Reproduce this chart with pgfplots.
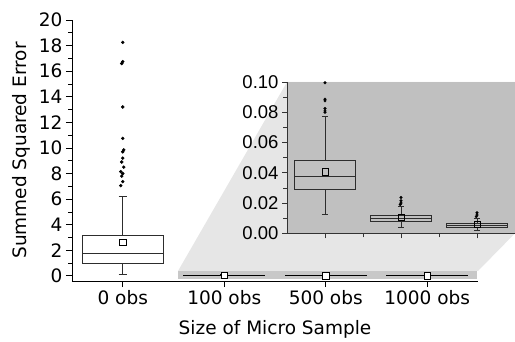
\documentclass[border=0pt]{standalone}
\usepackage{fontspec}
\setmainfont{DejaVu Sans}
\newfontfamily\insetfont{Liberation Sans}
\usepackage{pgfplots}
\pgfplotsset{compat=1.18}
\usepgfplotslibrary{statistics}
\pgfplotsset{boxplot/draw direction=y}
\definecolor{insetbg}{RGB}{192,192,192}
\definecolor{zoombg}{RGB}{230,230,230}
\definecolor{bandbg}{RGB}{200,200,200}
\definecolor{boxline}{RGB}{45,45,45}
\begin{document}
\begin{tikzpicture}
\useasboundingbox (-72bp,-61bp) rectangle (443bp,281bp);
\begin{axis}[name=main, at={(0,0)}, anchor=south west,
 scale only axis, width=406bp, height=261bp,
 xmin=0.5, xmax=4.5, ymin=-0.4, ymax=20,
 axis x line=bottom, axis y line=left,
 axis line style={-, line width=0.8bp, black},
 xtick={1,2,3,4}, xticklabels={0 obs,100 obs,500 obs,1000 obs},
 ytick={0,2,4,6,8,10,12,14,16,18,20}, minor ytick={1,3,5,7,9,11,13,15,17,19},
 tick align=outside, major tick length=6bp, minor tick length=3.5bp,
 every tick/.style={black, line width=0.8bp},
 /pgf/number format/assume math mode=true,
 tick label style={font=\fontsize{18.5bp}{22bp}\selectfont},
 label style={font=\fontsize{18.5bp}{22bp}\selectfont},
 xlabel={Size of Micro Sample}, ylabel={Summed Squared Error},
 xlabel style={yshift=-9bp}, ylabel style={yshift=2bp},
 clip=false,
]
\addplot[fill=bandbg, draw=none] coordinates {(1.54,-0.23) (4.49,-0.23) (4.49,0.39) (1.54,0.39)} -- cycle;
\addplot[boxplot prepared={draw direction=y, draw position=1, lower whisker=0.08, lower quartile=0.99, median=1.72, upper quartile=3.2, upper whisker=6.25, box extend=0.8, whisker extend=0.08}, draw=boxline, line width=0.8bp] coordinates {};
\addplot[boxplot prepared={draw direction=y, draw position=2, lower whisker=0.0127, lower quartile=0.029, median=0.0378, upper quartile=0.0484, upper whisker=0.0774, box extend=0.8, whisker extend=0.08}, draw=black, line width=0.9bp] coordinates {};
\addplot[boxplot prepared={draw direction=y, draw position=3, lower whisker=0.0037, lower quartile=0.0081, median=0.0097, upper quartile=0.0121, upper whisker=0.018, box extend=0.8, whisker extend=0.08}, draw=black, line width=1.2bp] coordinates {};
\addplot[boxplot prepared={draw direction=y, draw position=4, lower whisker=0.0022, lower quartile=0.0042, median=0.0053, upper quartile=0.0066, upper whisker=0.0099, box extend=0.8, whisker extend=0.08}, draw=black, line width=1.2bp] coordinates {};
\addplot[only marks, mark=*, mark size=1.5bp, black] coordinates {
(1,18.25) (1,16.75) (0.99,16.6) (1,13.2) (1,10.75) (1.01,9.85) (1,9.7) (1,9.2) (0.99,8.9) (1.01,8.5) (0.98,8.15) (1,8.0) (0.99,7.8) (1,7.37) (0.98,7.05)};
\addplot[only marks, mark=square*, mark size=3.3bp, mark options={fill=white, draw=black, line width=0.8bp}] coordinates {(1,2.63) (2,0.041) (3,0.0106) (4,0.0057)};
\end{axis}
\fill[zoombg] (106bp,10bp) -- (215bp,199bp) -- (443bp,199bp) -- (443bp,47.7bp) -- (406bp,10bp) -- cycle;
\fill[insetbg] (215bp,47.7bp) rectangle (443bp,199bp);
\begin{axis}[at={(215bp,47.7bp)}, anchor=south west,
 scale only axis, width=228bp, height=151.3bp,
 xmin=0.5, xmax=3.5, ymin=0, ymax=0.1,
 axis x line=bottom, axis y line=left,
 axis line style={-, line width=0.8bp, black!80},
 xtick={1,2,3}, xticklabels={,,}, minor xtick={1.5,2.5},
 ytick={0,0.02,0.04,0.06,0.08,0.1}, minor ytick={0.01,0.03,0.05,0.07,0.09},
 tick align=outside, major tick length=5bp, minor tick length=4bp,
 every tick/.style={black!80, line width=0.7bp},
 scaled y ticks=false,
 /pgf/number format/assume math mode=true,
 yticklabel style={/pgf/number format/.cd, fixed, fixed zerofill, precision=2},
 tick label style={font=\insetfont\fontsize{18.5bp}{22bp}\selectfont},
 clip=false,
]
\addplot[boxplot prepared={draw direction=y, draw position=1, lower whisker=0.0127, lower quartile=0.029, median=0.0378, upper quartile=0.0484, upper whisker=0.0774, box extend=0.8, whisker extend=0.08}, draw=boxline, line width=0.8bp] coordinates {};
\addplot[boxplot prepared={draw direction=y, draw position=2, lower whisker=0.0037, lower quartile=0.0081, median=0.0097, upper quartile=0.0121, upper whisker=0.018, box extend=0.8, whisker extend=0.08}, draw=boxline, line width=0.8bp] coordinates {};
\addplot[boxplot prepared={draw direction=y, draw position=3, lower whisker=0.0022, lower quartile=0.0042, median=0.0053, upper quartile=0.0066, upper whisker=0.0099, box extend=0.8, whisker extend=0.08}, draw=boxline, line width=0.8bp] coordinates {};
\addplot[only marks, mark=*, mark size=1.3bp, black] coordinates {
(1,0.0995) (1,0.0886) (1,0.0875) (1,0.0825) (1,0.0809) (1,0.080)
(2,0.0237) (2,0.0215) (2,0.0200) (1.99,0.0190)
(3,0.0136) (3,0.0121) (2.99,0.0110)};
\addplot[only marks, mark=square, mark size=3.1bp, mark options={draw=black, line width=0.8bp}] coordinates {(1,0.0406) (2,0.0106) (3,0.0057)};
\end{axis}
\end{tikzpicture}
\end{document}
